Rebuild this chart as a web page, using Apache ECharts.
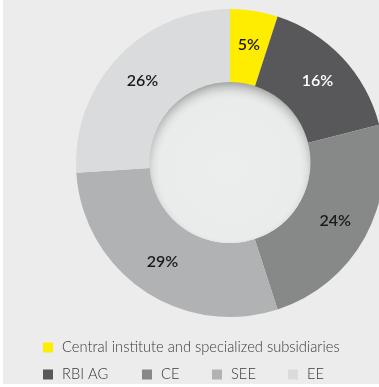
<!DOCTYPE html>
<html>
<head>
<meta charset="utf-8">
<style>
  html, body { margin: 0; padding: 0; background: #ffffff; }
  #chart { width: 379px; height: 387px; }
</style>
<script src="https://cdn.jsdelivr.net/npm/echarts@6/dist/echarts.min.js"></script>
</head>
<body>
<div id="chart"></div>
<script>
// Share of segments (clockwise from 12 o'clock)
const categories = ['Central institute and specialized subsidiaries', 'RBI AG', 'CE', 'SEE', 'EE'];
const shares = [5, 16, 24, 29, 26];
const sliceColors = ['#ffed00', '#58585a', '#878888', '#b1b2b3', '#dadbdc'];
const labelColors = ['#1a1a1a', '#ffffff', '#1a1a1a', '#1a1a1a', '#1a1a1a'];
// left positions of each legend entry
const legendSlots = [
  { left: 43, top: 340 },
  { left: 43, top: 367 },
  { left: 142, top: 367 },
  { left: 212, top: 367 },
  { left: 288, top: 367 }
];

const chart = echarts.init(document.getElementById('chart'), null, { renderer: 'canvas' });

const FONT = 'Lato, "Noto Sans", sans-serif';

const legends = categories.map((name, i) => ({
  data: [name],
  left: legendSlots[i].left,
  top: legendSlots[i].top,
  orient: 'horizontal',
  icon: 'rect',
  itemWidth: 10,
  itemHeight: 10,
  itemGap: 0,
  padding: 0,
  selectedMode: false,
  textStyle: { fontFamily: FONT, fontSize: 14.7, fontWeight: 300, color: '#3a3a3a', padding: [0, 0, 0, 4] }
}));

chart.setOption({
  animation: false,
  backgroundColor: 'transparent',
  graphic: [{
    type: 'rect',
    z: -10,
    shape: { x: 3, y: 0, width: 376, height: 384 },
    style: { fill: '#ebeceb' },
    silent: true
  }],
  legend: legends,
  series: [
    {
      type: 'pie',
      center: [230, 163],
      radius: [80, 154],
      startAngle: 90,
      clockwise: true,
      silent: true,
      label: {
        show: true,
        position: 'inside',
        fontFamily: FONT,
        fontSize: 16,
        fontWeight: 600,
        formatter: p => p.value + '%'
      },
      labelLine: { show: false },
      itemStyle: { borderWidth: 0 },
      data: categories.map((name, i) => ({
        name: name,
        value: shares[i],
        itemStyle: { color: sliceColors[i] },
        label: { color: labelColors[i] }
      }))
    },
    {
      // recessed centre with an inner shadow
      type: 'pie',
      center: [230, 162.5],
      radius: [0, 80.5],
      silent: true,
      label: { show: false },
      labelLine: { show: false },
      data: [{
        value: 1,
        name: '',
        itemStyle: {
          color: {
            type: 'radial', x: 0.5, y: 0.54, r: 0.54,
            colorStops: [
              { offset: 0, color: '#eceeed' },
              { offset: 0.82, color: '#eaeceb' },
              { offset: 0.88, color: '#e0e1e1' },
              { offset: 0.94, color: '#c8c9c9' },
              { offset: 1, color: '#a3a4a4' }
            ]
          }
        }
      }]
    }
  ]
});
</script>
</body>
</html>
